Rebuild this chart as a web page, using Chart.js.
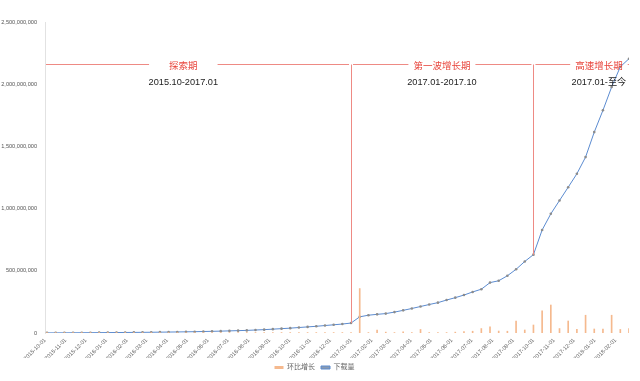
<!DOCTYPE html>
<html>
<head>
<meta charset="utf-8">
<title>下载量</title>
<script src="https://cdn.jsdelivr.net/npm/chart.js"></script>
<style>
  body { margin: 0; background: #fff; }
  #wrap { width: 640px; height: 381px; }
</style>
</head>
<body>
<div id="wrap"><canvas id="downloadChart"></canvas></div>
<script>
// sample dates (one point every ~13 days)
const sampleDates = [
  '2015-10-04','2015-10-17','2015-10-30','2015-11-12','2015-11-25','2015-12-08','2015-12-21',
  '2016-01-03','2016-01-16','2016-01-29','2016-02-11','2016-02-24','2016-03-08','2016-03-21',
  '2016-04-03','2016-04-16','2016-04-29','2016-05-12','2016-05-25','2016-06-07','2016-06-20',
  '2016-07-03','2016-07-16','2016-07-29','2016-08-11','2016-08-24','2016-09-06','2016-09-19',
  '2016-10-02','2016-10-15','2016-10-28','2016-11-10','2016-11-23','2016-12-06','2016-12-19',
  '2017-01-01','2017-01-14','2017-01-27','2017-02-09','2017-02-22','2017-03-07','2017-03-20',
  '2017-04-02','2017-04-15','2017-04-28','2017-05-11','2017-05-24','2017-06-06','2017-06-19',
  '2017-07-02','2017-07-15','2017-07-28','2017-08-10','2017-08-23','2017-09-05','2017-09-18',
  '2017-10-01','2017-10-14','2017-10-27','2017-11-09','2017-11-22','2017-12-05','2017-12-18',
  '2017-12-31','2018-01-13','2018-01-26','2018-02-08','2018-02-21'
];

// 下载量, in millions
const downloadsMillion = [
  1, 1.2, 1.5, 1.8, 2.2, 2.6, 3,
  3.4, 3.8, 4.2, 4.8, 5.4, 6, 6.8,
  7.6, 8.5, 9.5, 10.5, 12, 13.5, 15,
  17, 19, 21, 24, 27, 31, 35,
  39, 44, 49, 54, 60, 66, 72,
  80, 130, 143, 150, 156, 168, 182,
  197, 213, 229, 244, 265, 284, 305,
  330, 352, 405, 420, 460, 512, 575,
  630, 828, 958, 1065, 1172, 1280, 1414,
  1615, 1790, 1977, 2140, 2205
];

// 环比增长 (%)
const ringGrowth = [
  0.5, 0.5, 0.5, 0.5, 0.5, 0.5, 0.5,
  0.5, 0.5, 0.5, 0.5, 0.5, 0.5, 0.5,
  0.5, 0.5, 0.5, 0.5, 0.5, 0.5, 0.5,
  0.5, 0.5, 0.5, 0.5, 0.5, 0.5, 0.5,
  0.5, 0.5, 0.5, 0.5, 0.5, 0.5, 0.5,
  0.5, 50, 0.5, 3.4, 1, 0.5, 1.2,
  0.5, 4, 0.5, 0.5, 0.5, 1, 1.5,
  2, 5, 7, 2.2, 2, 13.5, 3.4,
  9, 25, 31.5, 5, 13.5, 4, 20,
  4.5, 4.5, 20, 4, 5
];

const monthTicks = [
  '2015-10-01','2015-11-01','2015-12-01','2016-01-01','2016-02-01','2016-03-01','2016-04-01',
  '2016-05-01','2016-06-01','2016-07-01','2016-08-01','2016-09-01','2016-10-01','2016-11-01',
  '2016-12-01','2017-01-01','2017-02-01','2017-03-01','2017-04-01','2017-05-01','2017-06-01',
  '2017-07-01','2017-08-01','2017-09-01','2017-10-01','2017-11-01','2017-12-01','2018-01-01',
  '2018-02-01'
];

// phase annotations
const phaseNames = ['探索期', '第一波增长期', '高速增长期'];
const phaseRanges = ['2015.10-2017.01', '2017.01-2017.10', '2017.01-至今'];
const phaseBounds = ['2015-10-01', '2017-01-01', '2017-10-01'];
const phaseLabelDates = ['2016-04-25', '2017-05-17', '2018-01-07'];
const phaseLineLevel = 2160000000;
const phaseTextLevel = 2010000000;

const dayOf = d => (Date.parse(d) - Date.parse('2015-10-01')) / 86400000;
const downloads = downloadsMillion.map(v => v * 1e6);

const phasePlugin = {
  id: 'phases',
  afterDatasetsDraw(chart) {
    const { ctx, chartArea } = chart;
    const x = chart.scales.x, y = chart.scales.y;
    const lineY = Math.round(y.getPixelForValue(phaseLineLevel)) + 0.5;
    const textY = y.getPixelForValue(phaseTextLevel);
    ctx.save();
    ctx.strokeStyle = '#ee8a84';
    ctx.lineWidth = 1;
    ctx.textAlign = 'center';
    ctx.textBaseline = 'middle';

    phaseNames.forEach((name, i) => {
      const x0 = x.getPixelForValue(dayOf(phaseBounds[i])) + (i ? 2 : 1);
      const x1 = i < phaseNames.length - 1 ? x.getPixelForValue(dayOf(phaseBounds[i + 1])) - 2 : chartArea.right;
      const cx = x.getPixelForValue(dayOf(phaseLabelDates[i]));
      ctx.font = '9.5px "Noto Sans CJK SC", sans-serif';
      const half = ctx.measureText(name).width / 2 + (i === 0 ? 20 : 5);
      ctx.beginPath();
      ctx.moveTo(x0, lineY);
      ctx.lineTo(cx - half, lineY);
      ctx.moveTo(cx + half, lineY);
      ctx.lineTo(x1, lineY);
      ctx.stroke();
      ctx.fillStyle = '#e8453c';
      ctx.fillText(name, cx, lineY + 0.5);
      ctx.font = '9.2px "Liberation Sans", "Noto Sans CJK SC", sans-serif';
      ctx.fillStyle = '#222';
      ctx.fillText(phaseRanges[i], cx, textY);
    });

    phaseBounds.slice(1).forEach(d => {
      const idx = sampleDates.indexOf(d);
      const px = Math.round(x.getPixelForValue(dayOf(d))) + 0.5;
      ctx.beginPath();
      ctx.moveTo(px, lineY);
      ctx.lineTo(px, y.getPixelForValue(downloads[idx]));
      ctx.stroke();
    });
    ctx.restore();
  }
};

Chart.defaults.font.family = '"Liberation Sans", "Noto Sans CJK SC", sans-serif';
Chart.defaults.font.size = 5.6;
Chart.defaults.color = '#666';

const ctx = document.getElementById('downloadChart').getContext('2d');
new Chart(ctx, {
  data: {
    datasets: [
      {
        type: 'bar',
        label: '环比增长',
        data: sampleDates.map((d, i) => ({ x: dayOf(d), y: ringGrowth[i] })),
        yAxisID: 'y1',
        backgroundColor: '#f5b98e',
        barThickness: 1
      },
      {
        type: 'line',
        label: '下载量',
        data: sampleDates.map((d, i) => ({ x: dayOf(d), y: downloads[i] })),
        yAxisID: 'y',
        borderColor: '#5b8bd0',
        backgroundColor: '#8a9ab0',
        borderWidth: 1,
        pointRadius: 1.3,
        pointBorderWidth: 0,
        pointBackgroundColor: '#8c8c8c',
        tension: 0
      }
    ]
  },
  options: {
    responsive: true,
    maintainAspectRatio: false,
    animation: false,
    layout: { padding: { top: 22, right: 11, left: 0, bottom: 0 } },
    plugins: {
      legend: {
        position: 'bottom',
        labels: { boxWidth: 9, boxHeight: 3, padding: 6, color: '#666', font: { size: 7 } }
      },
      tooltip: { enabled: false }
    },
    scales: {
      x: {
        type: 'linear',
        offset: false,
        min: 0,
        max: dayOf(sampleDates[sampleDates.length - 1]),
        grid: { display: false, drawTicks: false },
        border: { display: false },
        afterBuildTicks: axis => {
          axis.ticks = monthTicks.map(d => ({ value: dayOf(d) }));
        },
        afterFit: axis => { axis.height = 25; },
        ticks: {
          autoSkip: false,
          minRotation: 45,
          maxRotation: 45,
          padding: 4,
          color: '#666',
          callback: (val, i) => monthTicks[i]
        }
      },
      y: {
        min: 0,
        max: 2500000000,
        grid: { display: false, drawTicks: false },
        border: { color: '#e2e2e2' },
        afterFit: axis => { axis.width = 45; },
        ticks: {
          stepSize: 500000000,
          padding: 8,
          color: '#555',
          callback: v => v.toLocaleString('en-US')
        }
      },
      y1: {
        display: false,
        min: 0,
        max: 350
      }
    }
  },
  plugins: [phasePlugin]
});
</script>
</body>
</html>
